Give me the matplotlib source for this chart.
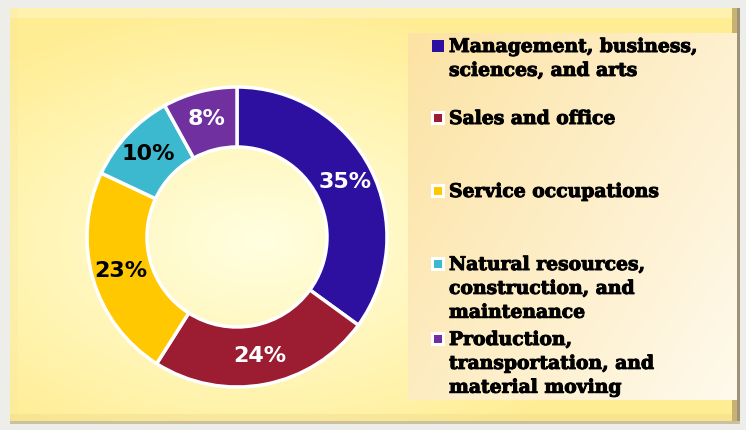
import numpy as np
import matplotlib
matplotlib.use("Agg")
import matplotlib.pyplot as plt
import matplotlib.patheffects as pe
from matplotlib.patches import Rectangle

# data
categories = [
    "Management, business,\nsciences, and arts",
    "Sales and office",
    "Service occupations",
    "Natural resources,\nconstruction, and\nmaintenance",
    "Production,\ntransportation, and\nmaterial moving",
]
shares = [35, 24, 23, 10, 8]
colors = ["#2E10A0", "#9C1C32", "#FFC800", "#3CB9CE", "#7030A0"]
label_colors = ["white", "white", "black", "black", "white"]

W, H = 746, 430
fig = plt.figure(figsize=(W / 100, H / 100), dpi=100)

# background frame + gradient panel
bg = fig.add_axes([0, 0, 1, 1])
bg.set_axis_off()
yy, xx = np.mgrid[0:H, 0:W]
img = np.ones((H, W, 3)) * np.array([0.93, 0.93, 0.92])
d = np.sqrt(((xx - 260) / 400.0) ** 2 + ((yy - 240) / 240.0) ** 2)
d = np.clip(d, 0, 1)
c0 = np.array([1.0, 1.0, 0.88])
c1 = np.array([1.0, 0.93, 0.58])
panel = c0[None, None, :] * (1 - d[..., None]) + c1[None, None, :] * d[..., None]
px0, py0, px1, py1 = 10, 8, 740, 424
img[py0:py1, px0:px1] = panel[py0:py1, px0:px1]
# bevel edges
img[py0:py0 + 10, px0:px1] = img[py0:py0 + 10, px0:px1] * 0.6 + np.array([1.0, 0.98, 0.85]) * 0.4
img[py1 - 10:py1, px0:px1] = img[py1 - 10:py1, px0:px1] * 0.75 + np.array([0.90, 0.80, 0.50]) * 0.25
img[py0:py1, px0:px0 + 8] = img[py0:py1, px0:px0 + 8] * 0.8 + np.array([0.95, 0.88, 0.62]) * 0.2
img[py0:py1, px1 - 8:px1] = np.array([0.78, 0.70, 0.45])
img[py0:py1, px1 - 3:px1] = np.array([0.62, 0.58, 0.48])
img[py1 - 3:py1, px0:px1] = np.array([0.80, 0.76, 0.62])
# legend box gradient
lx0, ly0, lx1, ly1 = 408, 33, 737, 400
gy, gx = np.mgrid[0:ly1 - ly0, 0:lx1 - lx0]
t = np.clip((gx / (lx1 - lx0)) * 0.6 + (gy / (ly1 - ly0)) * 0.4, 0, 1)
la = np.array([0.99, 0.89, 0.64])
lb = np.array([1.0, 0.98, 0.93])
img[ly0:ly1, lx0:lx1] = la[None, None, :] * (1 - t[..., None]) + lb[None, None, :] * t[..., None]
bg.imshow(img, extent=[0, W, H, 0], aspect="auto", interpolation="bilinear")
bg.set_xlim(0, W)
bg.set_ylim(H, 0)

# donut
cx, cy, R = 237, 237, 153
ax = fig.add_axes([(cx - R) / W, (H - cy - R) / H, 2 * R / W, 2 * R / H])
ax.set_axis_off()
wedges, texts, autotexts = ax.pie(
    shares, colors=colors, startangle=90, counterclock=False, radius=1.0,
    autopct="%d%%", pctdistance=0.81,
    wedgeprops=dict(width=0.40, edgecolor="white", linewidth=2.5),
    textprops=dict(fontsize=16, fontweight="bold", family="DejaVu Sans"),
)
for t_, c in zip(autotexts, label_colors):
    t_.set_color(c)
ax.set_xlim(-1.02, 1.02)
ax.set_ylim(-1.02, 1.02)
ax.set_aspect("equal")

# legend (fixed slots like the original)
slot_y = [46, 118, 191, 264, 339]
for i, (lab, col) in enumerate(zip(categories, colors)):
    y = slot_y[i]
    if i == 0:
        bg.add_patch(Rectangle((432, y - 6), 12, 12, facecolor=col, edgecolor="none"))
    else:
        bg.add_patch(Rectangle((431, y - 7), 14, 14, facecolor="white", edgecolor="none"))
        bg.add_patch(Rectangle((434, y - 4), 8, 8, facecolor=col, edgecolor="none"))
    bg.text(449, y - 8, lab, ha="left", va="top", fontsize=13.5, fontweight="bold",
            family="DejaVu Serif", color="black", linespacing=1.42,
            path_effects=[pe.withStroke(linewidth=0.7, foreground="black")])

fig.savefig("out.png", dpi=100)
